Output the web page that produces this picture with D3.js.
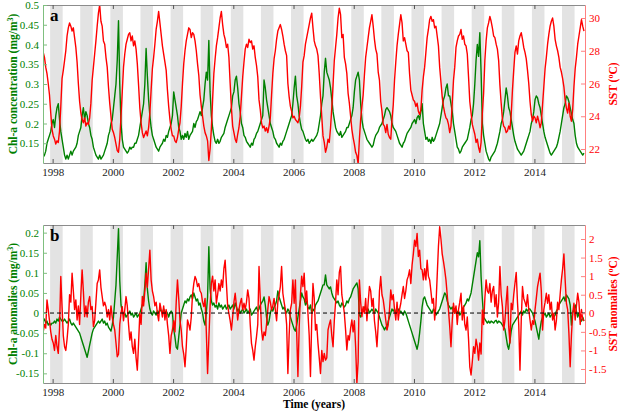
<!DOCTYPE html>
<html>
<head>
<meta charset="utf-8">
<script src="https://cdn.jsdelivr.net/npm/d3@7"></script>
<style>
body { margin: 0; background: #fff; }
svg { display: block; }
svg text { font-family: "Liberation Serif", "Times New Roman", serif; }
</style>
</head>
<body>
<svg></svg>
<script>
// half-month bins starting Sep 1997
let startYear = 1997 + 8 / 12;
let stepYear = 1 / 24;

let yearTicks = [1998, 2000, 2002, 2004, 2006, 2008, 2010, 2012, 2014];
let bandYears = [1998, 1999, 2000, 2001, 2002, 2003, 2004, 2005, 2006, 2007, 2008, 2009, 2010, 2011, 2012, 2013, 2014, 2015];
let chlTicks = [0.15, 0.2, 0.25, 0.3, 0.35, 0.4, 0.45, 0.5];
let sstTicks = [22, 24, 26, 28, 30];
let chlAnomTicks = [-0.15, -0.1, -0.05, 0, 0.05, 0.1, 0.15, 0.2];
let sstAnomTicks = [-1.5, -1, -0.5, 0, 0.5, 1, 1.5, 2];

let chl = [
  0.115, 0.12, 0.13, 0.15, 0.16, 0.17, 0.18, 0.2,
  0.21, 0.19, 0.22, 0.24, 0.25, 0.21, 0.18, 0.16, 0.14, 0.12, 0.11, 0.12, 0.11, 0.12, 0.13, 0.12, 0.13, 0.135, 0.14, 0.15, 0.17, 0.18, 0.19, 0.22,
  0.24, 0.21, 0.23, 0.22, 0.2, 0.19, 0.17, 0.16, 0.14, 0.13, 0.12, 0.115, 0.11, 0.12, 0.11, 0.115, 0.12, 0.13, 0.14, 0.15, 0.17, 0.18, 0.2, 0.21,
  0.24, 0.27, 0.3, 0.36, 0.46, 0.3, 0.2, 0.16, 0.14, 0.135, 0.13, 0.125, 0.13, 0.14, 0.135, 0.14, 0.14, 0.15, 0.15, 0.16, 0.17, 0.19, 0.21, 0.23,
  0.25, 0.3, 0.39, 0.32, 0.26, 0.22, 0.19, 0.17, 0.16, 0.15, 0.14, 0.135, 0.13, 0.14, 0.145, 0.15, 0.16, 0.155, 0.17, 0.165, 0.18, 0.19, 0.2, 0.22,
  0.28, 0.26, 0.24, 0.22, 0.19, 0.18, 0.16, 0.17, 0.16, 0.175, 0.165, 0.18, 0.16, 0.17, 0.175, 0.18, 0.2, 0.19, 0.205, 0.21, 0.22, 0.23, 0.22, 0.24,
  0.26, 0.3, 0.33, 0.31, 0.41, 0.28, 0.22, 0.19, 0.17, 0.155, 0.15, 0.16, 0.15, 0.155, 0.165, 0.17, 0.175, 0.19, 0.2, 0.21, 0.22, 0.23, 0.24, 0.27,
  0.28, 0.31, 0.32, 0.29, 0.25, 0.23, 0.2, 0.19, 0.17, 0.165, 0.155, 0.15, 0.145, 0.14, 0.15, 0.145, 0.16, 0.165, 0.175, 0.18, 0.19, 0.2, 0.21, 0.22,
  0.31, 0.29, 0.26, 0.24, 0.22, 0.2, 0.19, 0.18, 0.165, 0.16, 0.15, 0.145, 0.14, 0.15, 0.145, 0.155, 0.16, 0.17, 0.18, 0.19, 0.2, 0.21, 0.22, 0.25,
  0.29, 0.32, 0.27, 0.25, 0.22, 0.2, 0.185, 0.18, 0.17, 0.16, 0.155, 0.16, 0.15, 0.155, 0.16, 0.155, 0.16, 0.165, 0.17, 0.18, 0.2, 0.22, 0.25, 0.27,
  0.33, 0.365, 0.33, 0.32, 0.31, 0.29, 0.26, 0.23, 0.21, 0.19, 0.18, 0.175, 0.17, 0.18, 0.165, 0.17, 0.175, 0.18, 0.19, 0.19, 0.2, 0.21, 0.22, 0.24,
  0.28, 0.31, 0.32, 0.33, 0.31, 0.25, 0.21, 0.19, 0.18, 0.17, 0.16, 0.155, 0.15, 0.145, 0.14, 0.145, 0.16, 0.17, 0.175, 0.18, 0.19, 0.195, 0.2, 0.21,
  0.22, 0.235, 0.24, 0.235, 0.23, 0.22, 0.2, 0.19, 0.185, 0.18, 0.17, 0.16, 0.15, 0.145, 0.14, 0.15, 0.155, 0.165, 0.175, 0.18, 0.185, 0.19, 0.2, 0.205,
  0.21, 0.2, 0.215, 0.22, 0.21, 0.23, 0.25, 0.2, 0.18, 0.16, 0.165, 0.155, 0.16, 0.15, 0.165, 0.155, 0.16, 0.17, 0.18, 0.19, 0.2, 0.22, 0.24, 0.26,
  0.27, 0.29, 0.3, 0.27, 0.27, 0.25, 0.23, 0.2, 0.18, 0.16, 0.14, 0.135, 0.125, 0.13, 0.14, 0.145, 0.15, 0.155, 0.16, 0.175, 0.19, 0.21, 0.22, 0.25,
  0.3, 0.36, 0.4, 0.37, 0.43, 0.33, 0.2, 0.17, 0.15, 0.13, 0.12, 0.11, 0.105, 0.115, 0.12, 0.125, 0.13, 0.14, 0.15, 0.165, 0.18, 0.2, 0.21, 0.23,
  0.26, 0.29, 0.27, 0.24, 0.23, 0.21, 0.19, 0.17, 0.155, 0.145, 0.135, 0.13, 0.125, 0.12, 0.125, 0.13, 0.14, 0.15, 0.16, 0.17, 0.18, 0.2, 0.21, 0.23,
  0.26, 0.27, 0.265, 0.25, 0.24, 0.22, 0.2, 0.18, 0.165, 0.155, 0.145, 0.135, 0.125, 0.12, 0.125, 0.13, 0.135, 0.14, 0.15, 0.165, 0.18, 0.2, 0.22, 0.24,
  0.25, 0.27, 0.265, 0.255, 0.24, 0.225, 0.21, 0.2, 0.17, 0.15, 0.14, 0.135, 0.13, 0.125, 0.12, 0.125
];

let sst = [
  27.9, 27.6, 27.0, 26.6, 26.0, 25.3, 24.2, 23.2,
  22.8, 22.6, 22.3, 22.5, 22.4, 23.1, 24.6, 26.3, 26.8, 27.4, 28.0, 28.9, 29.4, 29.7, 29.5, 29.2, 29.4, 28.8, 28.2, 27.3, 26.0, 24.9, 24.2, 23.8,
  23.6, 23.9, 23.4, 23.6, 23.5, 23.9, 24.8, 26.2, 27.0, 27.8, 28.6, 29.5, 30.3, 30.8, 29.8, 29.5, 28.6, 28.4, 27.6, 27.0, 25.8, 24.8, 24.0, 23.2,
  23.0, 22.7, 22.3, 21.9, 21.8, 22.6, 24.0, 25.5, 27.0, 27.8, 28.4, 28.7, 29.0, 29.1, 28.6, 28.9, 28.3, 28.6, 28.1, 27.2, 25.9, 24.5, 23.6, 23.0,
  22.7, 22.9, 23.1, 22.8, 23.3, 24.2, 25.6, 26.9, 27.6, 28.4, 29.3, 29.8, 30.4, 29.7, 29.0, 28.3, 27.8, 27.3, 26.8, 25.6, 24.6, 23.8, 23.2, 22.8,
  22.8, 22.5, 22.4, 22.7, 23.2, 23.6, 24.6, 26.0, 27.2, 28.0, 28.6, 29.0, 29.4, 29.3, 28.8, 29.1, 29.0, 28.6, 28.0, 27.2, 26.5, 25.3, 24.6, 24.0,
  23.4, 23.0, 22.8, 22.5, 21.3, 22.0, 23.2, 25.0, 26.6, 27.5, 28.3, 28.8, 29.4, 30.0, 30.4, 29.6, 29.0, 28.7, 28.2, 28.4, 27.6, 26.0, 24.5, 23.4,
  23.0, 22.6, 22.4, 22.9, 23.3, 24.0, 25.2, 26.4, 27.3, 28.1, 28.4, 28.2, 28.7, 28.5, 28.6, 28.1, 28.3, 27.6, 27.1, 26.4, 25.0, 24.4, 23.6, 23.3,
  23.4, 23.1, 23.3, 23.0, 23.4, 23.9, 25.3, 26.6, 27.5, 28.0, 28.7, 29.2, 29.4, 29.6, 29.3, 28.9, 28.4, 28.0, 27.7, 26.0, 25.2, 24.6, 24.3, 23.9,
  24.0, 23.8, 23.7, 23.6, 23.9, 24.6, 25.8, 27.3, 27.7, 28.4, 28.8, 29.2, 29.6, 30.0, 30.3, 29.4, 28.6, 28.3, 28.1, 27.7, 26.6, 25.2, 24.0, 22.8,
  22.4, 21.8, 22.1, 22.6, 22.4, 23.3, 24.5, 25.9, 27.4, 28.2, 29.0, 30.0, 30.6, 30.2, 28.8, 29.0, 27.6, 27.2, 26.6, 25.4, 24.8, 24.0, 23.2, 22.7,
  22.3, 21.8, 21.6, 21.1, 22.6, 23.8, 24.6, 25.3, 26.5, 27.6, 28.2, 28.8, 29.4, 29.8, 30.2, 29.5, 28.7, 28.1, 27.8, 26.7, 26.2, 24.9, 24.3, 23.5,
  23.4, 23.0, 23.5, 22.9, 22.7, 22.6, 23.8, 24.7, 26.2, 27.3, 28.3, 29.0, 29.6, 30.2, 29.7, 28.6, 28.8, 28.4, 28.0, 27.9, 26.6, 25.6, 25.3, 25.0,
  24.9, 24.6, 24.8, 24.3, 24.1, 24.4, 25.6, 26.4, 27.0, 27.9, 28.8, 29.3, 29.9, 30.1, 29.8, 29.9, 29.4, 29.5, 28.9, 28.3, 27.0, 26.1, 25.2, 24.6,
  24.2, 23.9, 23.8, 23.5, 23.0, 23.4, 24.8, 26.2, 27.0, 28.2, 28.6, 28.9, 29.0, 29.3, 28.7, 28.9, 28.4, 28.3, 27.8, 26.4, 24.9, 24.2, 23.5, 23.2,
  22.9, 22.4, 22.6, 22.1, 21.8, 22.4, 24.2, 25.4, 27.4, 28.6, 29.4, 29.7, 30.1, 29.8, 29.4, 28.9, 28.8, 28.4, 28.1, 27.4, 25.9, 24.8, 23.8, 23.4,
  23.3, 23.0, 23.1, 23.4, 23.2, 24.1, 25.6, 26.8, 27.9, 28.3, 27.8, 28.6, 28.9, 29.1, 28.7, 28.2, 27.9, 27.5, 26.8, 26.0, 24.9, 24.1, 23.7, 24.0,
  23.9, 23.6, 24.0, 23.7, 23.3, 23.6, 24.7, 25.8, 26.9, 27.6, 28.4, 29.0, 29.5, 29.8, 30.0, 29.5, 28.7, 28.3, 28.0, 27.6, 27.0, 26.7, 26.3, 25.8,
  25.0, 24.5, 24.2, 24.8, 24.0, 23.7, 24.4, 25.8, 26.9, 27.6, 28.4, 28.9, 29.4, 29.9, 29.5, 29.2
];

let chlAnom = [
  -0.02, -0.015, -0.025, -0.02, -0.03, -0.025, -0.03, -0.025,
  -0.025, -0.02, -0.025, -0.015, -0.02, -0.01, -0.015, -0.02, -0.02, -0.015, -0.02, -0.025, -0.02, -0.015, -0.025, -0.03, -0.025, -0.03, -0.035, -0.04, -0.045, -0.05, -0.06, -0.07,
  -0.08, -0.09, -0.1, -0.11, -0.095, -0.08, -0.065, -0.05, -0.04, -0.035, -0.03, -0.025, -0.02, -0.025, -0.02, -0.015, -0.025, -0.02, -0.03, -0.025, -0.035, -0.04, -0.045, -0.03,
  -0.01, 0.03, 0.07, 0.14, 0.21, 0.08, 0.02, 0.005, -0.005, 0.0, -0.01, -0.005, 0.0, 0.005, -0.005, 0.0, -0.01, -0.005, 0.0, -0.01, -0.005, 0.0, 0.01, 0.02,
  0.03, 0.07, 0.125, 0.06, 0.03, 0.01, 0.0, -0.005, 0.005, 0.0, -0.005, 0.005, 0.0, 0.01, 0.005, 0.0, 0.01, 0.0, 0.005, 0.0, -0.01, 0.0, 0.005, 0.0,
  -0.04, -0.06, -0.085, -0.09, -0.06, -0.03, 0.0, 0.01, 0.02, 0.03, 0.025, 0.035, 0.03, 0.04, 0.045, 0.035, 0.05, 0.04, 0.03, 0.035, 0.02, 0.025, 0.01, 0.0,
  -0.02, -0.03, 0.0, 0.04, 0.165, 0.06, 0.03, 0.02, 0.025, 0.015, 0.02, 0.01, 0.025, 0.015, 0.02, 0.01, 0.015, 0.02, 0.01, 0.015, 0.02, 0.01, 0.015, 0.02,
  0.01, 0.025, 0.015, 0.005, 0.01, 0.0, 0.005, 0.01, 0.0, 0.005, 0.01, 0.0, 0.005, 0.01, -0.005, 0.0, 0.005, 0.01, 0.015, 0.005, 0.01, 0.02, 0.025, 0.03,
  0.04, 0.02, -0.01, -0.03, -0.02, 0.0, 0.01, 0.005, 0.015, 0.02, 0.03, 0.055, 0.04, 0.03, 0.02, 0.01, 0.015, 0.005, 0.0, 0.01, 0.005, -0.01, -0.02, -0.03,
  -0.04, -0.045, -0.03, -0.01, 0.01, 0.03, 0.05, 0.04, 0.035, 0.02, 0.03, 0.015, 0.01, 0.02, 0.0, 0.01, 0.005, 0.02, 0.025, 0.03, 0.04, 0.05, 0.06, 0.07,
  0.07, 0.095, 0.07, 0.065, 0.06, 0.065, 0.05, 0.04, 0.035, 0.03, 0.025, 0.03, 0.02, 0.015, 0.025, 0.02, 0.015, 0.02, 0.03, 0.025, 0.035, 0.04, 0.05, 0.06,
  0.065, 0.07, 0.075, 0.06, -0.005, -0.01, 0.005, 0.01, 0.015, 0.01, 0.005, 0.01, 0.0, 0.005, 0.01, 0.005, 0.0, 0.01, 0.005, 0.0, -0.01, -0.02, -0.03, -0.035,
  -0.042, -0.035, -0.04, -0.02, -0.01, 0.0, 0.01, 0.005, 0.01, 0.0, 0.005, 0.01, 0.0, 0.005, 0.0, -0.005, 0.005, 0.0, -0.01, -0.02, -0.03, -0.04, -0.05, -0.06,
  -0.07, -0.08, -0.09, -0.075, -0.05, -0.02, 0.015, 0.035, 0.04, 0.03, 0.02, 0.015, 0.01, 0.005, 0.0, 0.01, 0.005, -0.005, 0.0, 0.005, 0.01, 0.02, 0.03, 0.04,
  0.05, 0.045, 0.03, 0.02, 0.015, 0.01, 0.015, 0.005, 0.0, 0.01, 0.0, 0.005, -0.005, 0.0, 0.01, 0.015, 0.02, 0.025, 0.035, 0.03, 0.04, 0.05, 0.07, 0.09,
  0.11, 0.13, 0.15, 0.14, 0.18, 0.09, 0.035, -0.01, -0.015, -0.02, -0.025, -0.02, -0.025, -0.02, -0.022, -0.025, -0.02, -0.018, -0.025, -0.02, -0.022, -0.025, -0.03, -0.035,
  -0.04, -0.06, -0.08, -0.09, -0.07, -0.045, -0.03, -0.025, -0.02, -0.015, -0.01, -0.005, 0.0, 0.005, -0.005, 0.005, 0.0, 0.01, 0.005, 0.01, 0.01, 0.005, 0.0, -0.01,
  -0.02, -0.035, -0.05, -0.065, -0.04, -0.02, -0.01, -0.005, 0.0, -0.01, -0.005, 0.0, -0.01, -0.005, 0.0, -0.01, -0.005, 0.005, 0.01, 0.02, 0.025, 0.03, 0.035, 0.04,
  0.03, 0.045, 0.04, 0.035, 0.02, -0.03, 0.0, 0.01, 0.02, 0.005, -0.01, 0.0, -0.015, -0.02, -0.01, -0.02
];

let sstAnom = [
  -0.5, -0.3, -0.4, 0.36, 0.1, -0.2, -0.5, -0.7,
  -0.8, -1.0, -0.6, -0.9, -1.08, -0.4, 0.99, 0.18, -0.6, -0.9, -1.0, -0.7, -0.3, 0.5, 0.3, 1.08, 0.6, 0.1, 0.36, -0.18, 0.2, -0.3, 0.5, 1.17,
  0.6, -0.09, 0.2, -0.1, 0.3, 0.45, 0.1, 0.18, -0.36, -0.2, 0.3, 0.8, 0.9, 1.17, 0.7, 0.45, 0.2, 0.3, 0.18, -0.1, 0.1, -0.18, 0.2, -0.1,
  -0.3, -0.45, -0.8, -1.17, -1.1, -0.3, 0.0, 0.18, -0.2, 0.1, 0.45, 0.2, -0.3, -0.72, -0.5, -0.9, -1.08, -0.7, -1.2, -1.53, -0.8, 0.0, -0.3, 0.45,
  0.2, 0.6, 1.08, 0.7, 1.2, 1.7, 0.9, 0.6, 0.45, 0.2, 0.3, 0.0, -0.2, 0.27, 0.1, -0.1, 0.2, -0.18, 0.1, -0.3, -0.6, -1.08, -0.6, -0.45,
  -0.2, -0.5, 0.3, 0.9, 0.4, -0.2, -0.45, -0.9, -1.1, -1.44, -0.9, -0.18, -0.3, -0.45, -0.1, 0.5, 0.8, 0.99, 0.9, 0.72, 0.8, 0.6, 0.54, 0.3,
  0.18, 0.4, -0.5, -1.62, -0.7, 0.2, 0.8, 1.0, 0.6, 0.9, 0.27, 0.5, 0.8, 0.6, 0.9, 0.7, 1.2, 1.43, 0.8, 0.2, 0.0, -0.2, -0.45, -0.1,
  0.3, 0.54, 0.2, -0.18, 0.1, 0.27, 0.4, 0.09, 0.27, 0.1, 0.3, 0.63, 0.4, -0.3, -0.81, -1.0, -1.26, -0.9, -0.63, -0.3, 1.26, 0.4, -0.45, -0.72,
  -0.5, -0.6, -0.3, 0.1, 0.45, 0.3, 0.09, 0.2, 0.4, 0.1, -0.2, 0.3, 0.5, 0.72, 1.26, 0.54, 0.3, 0.1, -0.3, -1.62, -0.6, 0.1, 0.27, 0.9,
  0.27, 0.9, -0.5, -1.7, -0.4, 0.5, 1.0, 0.72, 1.08, 0.3, 0.6, 0.0, -0.6, -1.7, -0.2, 0.8, 0.4, -0.45, -0.3, -0.81, -1.2, -1.62, -1.0, -1.3,
  -1.08, -1.26, -1.2, -0.45, -0.3, -0.18, -0.6, -0.9, -0.2, 0.3, 0.9, 0.5, 1.1, 1.26, 0.5, 0.27, 0.0, -0.45, -0.99, -0.6, -0.72, -0.4, -0.18, -0.5,
  -0.2, -0.9, -1.88, -1.3, 0.9, 0.3, -0.09, 0.18, 0.0, 0.4, -0.2, 0.3, 0.72, 0.6, 0.18, 0.4, -0.2, -0.5, -0.9, -0.3, 0.6, 0.99, 0.5, 0.36,
  0.1, -0.18, -0.45, -0.3, 0.1, 0.63, 0.36, 0.5, 0.1, -0.18, 0.3, -0.18, 0.1, 0.27, 0.5, 0.72, 0.4, 0.6, 0.9, 1.0, 1.17, 0.8, 1.3, 1.6,
  1.97, 1.8, 2.15, 1.53, 1.7, 1.2, 1.17, 0.9, 1.2, 0.9, 1.43, 1.0, 0.9, 0.6, 0.27, 0.4, -0.18, 0.2, 1.0, 1.8, 2.33, 2.0, 1.6, 1.4,
  1.17, 0.9, 0.5, 0.09, -0.36, -0.9, -0.2, 0.27, 0.0, 0.2, -0.3, 0.1, 0.3, 0.54, -0.18, 0.2, -0.3, -0.45, -0.1, -0.7, -1.44, -1.66, -1.3, -0.9,
  -1.08, -0.7, -0.9, -1.26, -0.8, -1.1, 0.09, -0.3, 0.4, 0.9, 0.6, 0.54, 0.8, 0.3, 0.6, 0.72, 0.18, 0.5, -0.1, 0.3, 1.26, 0.5, 0.18, -0.45,
  -0.2, 0.3, 0.72, -0.36, -0.8, 0.27, 0.1, 0.5, 0.81, 1.1, 0.3, -0.3, -1.53, -0.2, 0.72, 0.4, 0.3, 0.18, 0.5, 0.1, -0.18, -0.45, -0.2, -0.3,
  0.1, 0.4, 0.72, 0.9, 1.08, 0.6, -0.45, 0.1, 0.3, 0.54, 0.27, 0.5, 0.1, 0.3, -0.18, 0.0, -0.45, -0.2, 0.3, 0.1, 0.5, 0.9, 1.2, 1.6,
  0.9, 0.27, 0.1, -0.54, -1.44, -0.6, 0.0, 0.27, -0.18, 0.2, 0.54, 0.3, -0.3, 0.1, -0.18, -0.2
];

let width = 625;
let height = 414;
let left = 43;
let right = 585;
let green = '#008000';
let red = '#ff0000';
let serif = '"Liberation Serif", "Times New Roman", serif';

let svg = d3.select('svg')
  .attr('width', width)
  .attr('height', height)

let timeOf = (i) => startYear + (i + 0.5) * stepYear;

let xScale = d3.scaleLinear()
  .domain([1997.68, 2015.68])
  .range([left, right])

let drawPanel = (opt) => {
  let top = opt.top;
  let bottom = opt.bottom;

  let yL = d3.scaleLinear().domain(opt.leftDomain).range([bottom, top]);
  let yR = d3.scaleLinear().domain(opt.rightDomain).range([bottom, top]);

  svg.append('clipPath')
    .attr('id', opt.id)
    .append('rect')
    .attr('x', left)
    .attr('y', top)
    .attr('width', right - left)
    .attr('height', bottom - top)

  let g = svg.append('g').attr('clip-path', `url(#${opt.id})`);

  // winter shading Dec-Mar
  g.selectAll('rect.band')
    .data(bandYears)
    .enter()
    .append('rect')
    .attr('class', 'band')
    .attr('x', (y) => xScale(y - 1 / 12))
    .attr('y', top)
    .attr('width', (y) => xScale(y + 1 / 3) - xScale(y - 1 / 12))
    .attr('height', bottom - top)
    .attr('fill', '#e3e3e3')

  let lineL = d3.line()
    .x((d, i) => xScale(timeOf(i)))
    .y((d) => yL(d));
  let lineR = d3.line()
    .x((d, i) => xScale(timeOf(i)))
    .y((d) => yR(d));

  g.append('path')
    .datum(opt.leftData)
    .attr('d', lineL)
    .attr('fill', 'none')
    .attr('stroke', green)
    .attr('stroke-width', 1.4)
    .attr('stroke-linejoin', 'round')

  g.append('path')
    .datum(opt.rightData)
    .attr('d', lineR)
    .attr('fill', 'none')
    .attr('stroke', red)
    .attr('stroke-width', 1.4)
    .attr('stroke-linejoin', 'round')

  if (opt.zeroLine) {
    g.append('line')
      .attr('x1', left)
      .attr('x2', right)
      .attr('y1', yL(0))
      .attr('y2', yL(0))
      .attr('stroke', '#000')
      .attr('stroke-width', 1)
      .attr('stroke-dasharray', '4,3')
  }

  // axes, ticks pointing inward
  let xAxis = d3.axisBottom(xScale)
    .tickValues(yearTicks)
    .tickFormat(d3.format('d'))
    .tickSizeInner(-4)
    .tickSizeOuter(0)
    .tickPadding(5);
  let xg = svg.append('g')
    .attr('transform', `translate(0, ${bottom})`)
    .call(xAxis)
    .attr('font-family', serif)
    .attr('font-size', 11)
  xg.select('.domain').attr('stroke', '#8c8c8c')
  xg.selectAll('.tick line').attr('stroke', '#555')
  xg.selectAll('text').attr('fill', '#222')

  let xTop = svg.append('g')
    .attr('transform', `translate(0, ${top})`)
    .call(d3.axisTop(xScale).tickValues(yearTicks).tickFormat('').tickSizeInner(-4).tickSizeOuter(0))
  xTop.select('.domain').attr('stroke', '#8c8c8c')
  xTop.selectAll('.tick line').attr('stroke', '#555')

  let lg = svg.append('g')
    .attr('transform', `translate(${left}, 0)`)
    .call(d3.axisLeft(yL).tickValues(opt.leftTicks).tickFormat((d) => String(d)).tickSizeInner(-4).tickSizeOuter(0).tickPadding(4))
    .attr('font-family', serif)
    .attr('font-size', 11)
  lg.select('.domain').attr('stroke', '#7fbf7f')
  lg.selectAll('.tick line').attr('stroke', '#7fbf7f')
  lg.selectAll('text').attr('fill', green)

  let rg = svg.append('g')
    .attr('transform', `translate(${right}, 0)`)
    .call(d3.axisRight(yR).tickValues(opt.rightTicks).tickFormat((d) => String(d)).tickSizeInner(-4).tickSizeOuter(0).tickPadding(4))
    .attr('font-family', serif)
    .attr('font-size', 11)
  rg.select('.domain').attr('stroke', '#ff8080')
  rg.selectAll('.tick line').attr('stroke', '#ff8080')
  rg.selectAll('text').attr('fill', red)

  // panel letter
  svg.append('text')
    .attr('x', 50)
    .attr('y', top + 16)
    .attr('font-family', serif)
    .attr('font-size', 17)
    .attr('font-weight', 'bold')
    .text(opt.letter)

  let mid = (top + bottom) / 2;

  let lt = svg.append('text')
    .attr('transform', `translate(17, ${mid}) rotate(-90)`)
    .attr('text-anchor', 'middle')
    .attr('font-family', serif)
    .attr('font-size', 11.5)
    .attr('font-weight', 'bold')
    .attr('fill', green)
  lt.append('tspan').text(opt.leftTitle + ' (mg/m')
  lt.append('tspan').attr('font-size', 8).attr('dy', -4).text('3')
  lt.append('tspan').attr('dy', 4).text(')')

  let rt = svg.append('text')
    .attr('transform', `translate(617, ${mid}) rotate(-90)`)
    .attr('text-anchor', 'middle')
    .attr('font-family', serif)
    .attr('font-size', 11.5)
    .attr('font-weight', 'bold')
    .attr('fill', red)
  rt.append('tspan').text(opt.rightTitle + ' (')
  rt.append('tspan').attr('font-size', 8).attr('dy', -4).text('o')
  rt.append('tspan').attr('dy', 4).text('C)')
}

drawPanel({
  id: 'clipA', top: 5, bottom: 163, letter: 'a',
  leftDomain: [0.1, 0.5], rightDomain: [21.145, 30.794],
  leftData: chl, rightData: sst,
  leftTicks: chlTicks, rightTicks: sstTicks,
  leftTitle: 'Chl-a concentration', rightTitle: 'SST',
  zeroLine: false
})

drawPanel({
  id: 'clipB', top: 225, bottom: 383, letter: 'b',
  leftDomain: [-0.174, 0.219], rightDomain: [-1.877, 2.377],
  leftData: chlAnom, rightData: sstAnom,
  leftTicks: chlAnomTicks, rightTicks: sstAnomTicks,
  leftTitle: 'Chl-a anomalies', rightTitle: 'SST anomalies',
  zeroLine: true
})

svg.append('text')
  .attr('x', 314)
  .attr('y', 408)
  .attr('text-anchor', 'middle')
  .attr('font-family', serif)
  .attr('font-size', 11.5)
  .attr('font-weight', 'bold')
  .text('Time (years)')
</script>
</body>
</html>
